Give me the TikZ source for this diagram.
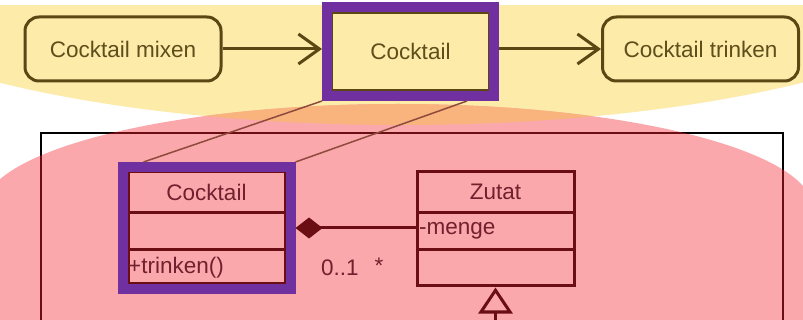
\documentclass[tikz,border=0pt]{standalone}
\usepackage{fontspec}
\setmainfont{Liberation Sans}
\usetikzlibrary{%
  positioning
 ,arrows.meta
 ,calc
}
\definecolor{hlyellow}{HTML}{FCEBA9}
\definecolor{hlpink}{HTML}{FBA8AC}
\definecolor{hlorange}{HTML}{F9B47D}
\definecolor{hlpurple}{HTML}{7030A0}
\definecolor{inkbrown}{HTML}{5A4714}
\definecolor{txtbrown}{HTML}{5E4E1A}
\definecolor{inkred}{HTML}{6B0E14}
\definecolor{txtred}{HTML}{70202E}
\definecolor{linkred}{HTML}{8E4A3C}
\tikzstyle{act}=[draw=inkbrown,fill=hlyellow,text=txtbrown,line width=3pt,rounded corners=14pt,minimum width=196pt,minimum height=64pt,inner sep=0pt]
\tikzstyle{obj}=[draw=inkbrown,fill=hlyellow,text=txtbrown,line width=1.5pt,minimum width=157pt,minimum height=77pt,inner sep=0pt]
\tikzstyle{hilite}=[draw=hlpurple,line width=10pt,inner sep=0pt]
\tikzstyle{cls}=[draw=inkred,line width=3pt,minimum width=157pt,inner sep=0pt]
\tikzstyle{clsline}=[draw=inkred,line width=3pt]
\tikzstyle{ctxt}=[text=txtred,inner sep=0pt]
\tikzstyle{flow}=[draw=inkbrown,line width=3pt,-{Straight Barb[length=21pt,width=30pt]}]
\tikzstyle{link}=[draw=linkred,line width=1.5pt]
\tikzstyle{frame}=[draw=black,line width=2.8pt]

\begin{document}
\begin{tikzpicture}[x=1pt,y=-1pt,font=\fontsize{22.5}{27}\selectfont,node distance=287.5pt,on grid]
  \useasboundingbox (0,0) rectangle (803,320);
  \fill[white] (0,0) rectangle (803,320);
  % highlight areas
  \begin{scope}
    \clip (0,6) rectangle (803,330);
    \fill[hlyellow] (401,-40) ellipse [x radius=600,y radius=165];
  \end{scope}
  \fill[hlpink] (-17,209) arc[start angle=180,end angle=360,x radius=415,y radius=105]
    -- (813,330) -- (-17,330) -- cycle;
  \begin{scope}
    \clip (401,-40) ellipse [x radius=600,y radius=165];
    \fill[hlorange] (-17,209) arc[start angle=180,end angle=360,x radius=415,y radius=105]
      -- (813,330) -- (-17,330) -- cycle;
  \end{scope}
  % class diagram frame
  \draw[frame] (41,340) |- (783,133) -- (783,340);
  \begin{scope}
    \clip (-17,209) arc[start angle=180,end angle=360,x radius=415,y radius=105]
      -- (813,330) -- (-17,330) -- cycle;
    \draw[frame,draw=inkred] (41,340) |- (783,133) -- (783,340);
  \end{scope}

  % activity row
  \node[act] (mix) at (123,49) {Cocktail mixen};
  \node[obj,right=of mix,yshift=-2.5pt] (ck) {Cocktail};
  \node[act,right=290pt of ck,yshift=2.5pt] (drink) {Cocktail trinken};
  \node[hilite,minimum width=167pt,minimum height=89pt] (ckframe) at (ck) {};
  \draw[flow] (mix.east) -- (mix.east -| ckframe.west);
  \draw[flow] (ckframe.east |- drink.west) -- (drink.west);

  % classes
  \node[cls,minimum height=112pt] (cocktailcls) at (206.5,228) {};
  \draw[clsline] (cocktailcls.west |- 0,213) -- (cocktailcls.east |- 0,213);
  \draw[clsline] (cocktailcls.west |- 0,250) -- (cocktailcls.east |- 0,250);
  \node[hilite,minimum width=168pt,minimum height=122pt] (clsframe) at (cocktailcls) {};
  \node[ctxt] (clsname) at (206.5,192) {Cocktail};
  \node[ctxt,anchor=west] (clsop) at (128,268) {+trinken()};

  \node[cls,minimum height=114pt] (zutat) at (495.5,229) {};
  \draw[clsline] (zutat.west |- 0,213) -- (zutat.east |- 0,213);
  \draw[clsline] (zutat.west |- 0,250) -- (zutat.east |- 0,250);
  \node[ctxt] (zname) at (495.5,192) {Zutat};
  \node[ctxt,anchor=west] (zattr) at (419,231) {-menge};

  \draw[clsline,{Diamond[length=27pt,width=21pt]}-] (clsframe.east) -- (clsframe.east -| zutat.west);
  \node[ctxt,anchor=west] (mlow) at (321,268) {0..1};
  \node[ctxt] (mhigh) at (379,266) {*};

  \coordinate (zdown) at (495.5,330);
  \draw[clsline,-{Triangle[open,length=26pt,width=34pt]}] (zdown) -- (zutat.south);

  % links between object and class
  \draw[link] (ckframe.south west) -- ($(clsframe.north west)+(26,0)$);
  \draw[link] ($(ckframe.south east)+(-32,0)$) -- (clsframe.north east);
\end{tikzpicture}
\end{document}
